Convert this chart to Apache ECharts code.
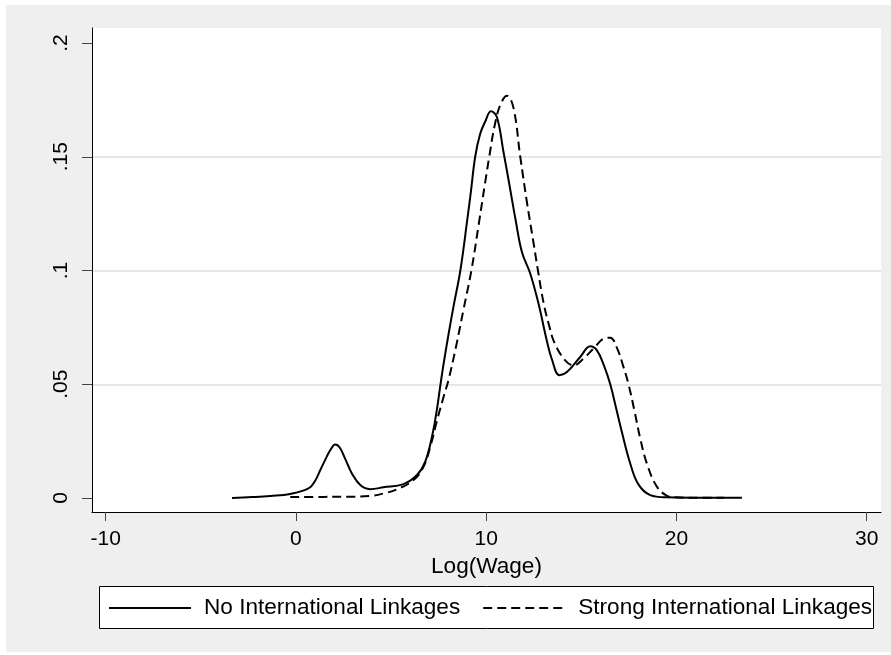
<!DOCTYPE html>
<html><head><meta charset="utf-8">
<script src="https://cdn.jsdelivr.net/npm/echarts@6/dist/echarts.min.js"></script>
<style>html,body{margin:0;padding:0;background:#fff}#c{width:891px;height:655px}</style>
</head><body><div id="c"></div>
<script>
// Series names
const seriesNames = ['No International Linkages', 'Strong International Linkages'];
// Kernel density: No International Linkages (solid)
const xNoLinks = [-3.36, -2.3, -1.35, -0.3, 0.66, 1.0, 1.28, 1.55, 1.8, 2.07, 2.3, 2.6, 2.94, 3.38, 3.9, 4.6, 5.65, 6.36, 6.79, 7.15, 7.41, 7.58, 7.76, 8.02, 8.3, 8.64, 9.0, 9.2, 9.42, 9.68, 9.95, 10.25, 10.56, 10.91, 11.17, 11.55, 11.88, 12.3, 12.75, 13.19, 13.45, 13.85, 14.24, 14.94, 15.47, 15.82, 16.2, 16.52, 16.87, 17.13, 17.57, 18.0, 18.62, 19.5, 21.5, 23.44];
const yNoLinks = [0.0, 0.0004, 0.0009, 0.0018, 0.0042, 0.0075, 0.0123, 0.017, 0.021, 0.0235, 0.0222, 0.017, 0.0108, 0.0057, 0.0039, 0.0047, 0.0061, 0.0101, 0.0159, 0.027, 0.039, 0.049, 0.059, 0.072, 0.085, 0.100, 0.122, 0.135, 0.150, 0.160, 0.1655, 0.170, 0.1675, 0.152, 0.140, 0.122, 0.108, 0.099, 0.0854, 0.069, 0.061, 0.054, 0.0554, 0.062, 0.0667, 0.0649, 0.058, 0.050, 0.038, 0.029, 0.0152, 0.006, 0.0013, 0.0003, 0.0001, 0.0001];
// Kernel density: Strong International Linkages (dashed)
const xStrong = [-0.3, 1.5, 3.0, 3.9, 4.6, 5.3, 6.18, 6.7, 7.06, 7.41, 7.76, 8.02, 8.4, 8.81, 9.22, 9.6, 9.95, 10.16, 10.45, 10.75, 11.09, 11.43, 11.79, 12.14, 12.49, 12.72, 13.01, 13.3, 13.6, 14.15, 14.59, 15.11, 15.64, 16.16, 16.52, 16.87, 17.2, 17.48, 17.8, 18.1, 18.45, 18.97, 19.5, 19.93, 21.0, 22.5];
const yStrong = [0.0004, 0.0005, 0.0006, 0.0009, 0.002, 0.0038, 0.0079, 0.0137, 0.0225, 0.034, 0.0445, 0.052, 0.066, 0.083, 0.100, 0.120, 0.139, 0.150, 0.164, 0.173, 0.1768, 0.1716, 0.150, 0.130, 0.112, 0.100, 0.086, 0.076, 0.068, 0.0605, 0.0583, 0.0613, 0.0657, 0.070, 0.0705, 0.066, 0.058, 0.050, 0.038, 0.026, 0.015, 0.005, 0.001, 0.0003, 0.0001, 0.0001];
// Axis ticks
const xTicks = [-10, 0, 10, 20, 30];
const xTickLabels = ['-10', '0', '10', '20', '30'];
const yTicks = [0, 0.05, 0.1, 0.15, 0.2];
const yTickLabels = ['0', '.05', '.1', '.15', '.2'];
const xAxisTitle = 'Log(Wage)';

const FONT = 'Liberation Sans, Arial, Helvetica, sans-serif';
function pairs(xs, ys) { return xs.map((x, i) => [x, ys[i]]); }
function labelFor(v, ticks, labels) {
  let best = 0;
  for (let i = 1; i < ticks.length; i++) if (Math.abs(ticks[i] - v) < Math.abs(ticks[best] - v)) best = i;
  return labels[best];
}

const chart = echarts.init(document.getElementById('c'), null, { renderer: 'canvas', width: 891, height: 655 });
chart.setOption({
  animation: false,
  backgroundColor: 'transparent',
  graphic: [
    { type: 'rect', z: -10, silent: true, shape: { x: 6, y: 5, width: 885, height: 647 }, style: { fill: '#efefef' } },
    { type: 'rect', z: 1, silent: true, shape: { x: 99.5, y: 586.5, width: 774, height: 42 }, style: { fill: '#ffffff', stroke: '#000', lineWidth: 1 } }
  ],
  grid: { left: 92, right: 10, top: 28, bottom: 143, show: true, backgroundColor: '#ffffff', borderWidth: 0 },
  legend: {
    data: seriesNames, left: 108, top: 587, padding: 0, itemGap: 22, itemWidth: 82, itemHeight: 14,
    selectedMode: false, z: 5,
    itemStyle: { opacity: 0 },
    textStyle: { fontFamily: FONT, fontSize: 22.6, lineHeight: 42, color: '#000', padding: [0, 0, 0, 8] }
  },
  xAxis: {
    type: 'value', min: -10.72, max: 30.75, splitNumber: 4,
    name: xAxisTitle, nameLocation: 'middle', nameGap: 36,
    nameTextStyle: { fontFamily: FONT, fontSize: 22.6, color: '#000' },
    axisLine: { show: true, onZero: false, lineStyle: { color: '#000', width: 1 } },
    axisTick: { show: true, inside: false, length: 9, customValues: xTicks, lineStyle: { color: '#444', width: 1 } },
    axisLabel: { customValues: xTicks, margin: 17, fontFamily: FONT, fontSize: 21, color: '#000',
      formatter: v => labelFor(v, xTicks, xTickLabels) },
    splitLine: { show: false }
  },
  yAxis: {
    type: 'value', min: -0.00614, max: 0.2066, splitNumber: 4,
    axisLine: { show: true, onZero: false, lineStyle: { color: '#000', width: 1 } },
    axisTick: { show: true, inside: false, length: 10, customValues: yTicks, lineStyle: { color: '#444', width: 1 } },
    axisLabel: { customValues: yTicks, rotate: 90, margin: 20, fontFamily: FONT, fontSize: 21, color: '#000',
      formatter: v => labelFor(v, yTicks, yTickLabels) },
    splitLine: { show: true, showMinLine: false, showMaxLine: false, lineStyle: { color: '#e6e6e6', width: 2 } }
  },
  series: [
    { name: seriesNames[0], type: 'line', data: pairs(xNoLinks, yNoLinks), symbol: 'none', showSymbol: false,
      smooth: 0.4, lineStyle: { color: '#000', width: 2, type: 'solid' }, itemStyle: { color: '#000' } },
    { name: seriesNames[1], type: 'line', data: pairs(xStrong, yStrong), symbol: 'none', showSymbol: false,
      smooth: 0.4, lineStyle: { color: '#000', width: 2, type: [9, 5] }, itemStyle: { color: '#000' } }
  ]
});
</script></body></html>
